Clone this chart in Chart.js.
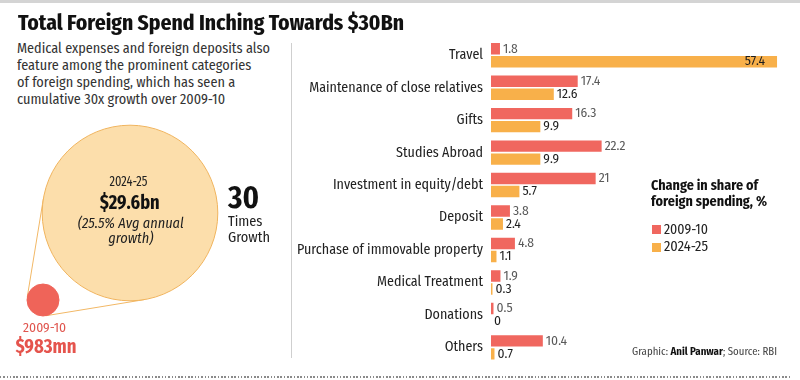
<!DOCTYPE html>
<html>
<head>
<meta charset="utf-8">
<script src="https://cdn.jsdelivr.net/npm/chart.js@4.4.1/dist/chart.umd.min.js"></script>
<style>
  body { margin: 0; width: 800px; height: 380px; overflow: hidden; background: #fff;
         font-family: 'Fira Sans Condensed', Roboto, sans-serif; color: #1e1e1e; position: relative; }
  .t { position: absolute; white-space: nowrap; line-height: 1; transform-origin: 0 0; }
  .c { position: absolute; width: 200px; text-align: center; line-height: 1; }
  .c span { display: inline-block; white-space: nowrap; transform-origin: 50% 0; }
  #topband { position: absolute; left: 0; top: 0; width: 800px; height: 3px; background: #d4d4d4; }
  #divider { position: absolute; left: 291px; top: 43px; width: 1px; height: 315px; background: #cfcfcf; }
  #dots { position: absolute; left: 0; top: 376px; width: 790px; height: 1.5px;
          background: repeating-linear-gradient(90deg, #8a8a8a 0 1.5px, transparent 1.5px 3.3px); }
  #bars { position: absolute; left: 291px; top: 0; }
  #bubbles { position: absolute; left: 0; top: 110px; }
  .sq { position: absolute; width: 9px; height: 9px; }
</style>
</head>
<body>
<div id="topband"></div>
<div id="divider"></div>
<div id="dots"></div>
<canvas id="bubbles" width="290" height="260"></canvas>
<canvas id="bars" width="509" height="380"></canvas>

<div class="t" data-w="386" style="left:18px;top:12px;font-size:22px;font-weight:700;color:#111;font-family:'Fira Sans Extra Condensed','Fira Sans Condensed',sans-serif">Total Foreign Spend Inching Towards $30Bn</div>
<div class="t" data-w="253" style="left:17px;top:39.7px;font-size:14.5px;line-height:17px;color:#333">Medical expenses and foreign deposits also<br>feature among the prominent categories<br>of foreign spending, which has seen a<br>cumulative 30x growth over 2009-10</div>

<div class="c" style="left:28px;top:175.2px;font-size:14px;color:#222"><span data-w="38">2024-25</span></div>
<div class="c" style="left:30px;top:192px;font-size:20px;font-weight:700;color:#111"><span data-w="60">$29.6bn</span></div>
<div class="c" style="left:31px;top:215.7px;font-size:14px;line-height:15px;font-style:italic;color:#222"><span data-w="106">(25.5% Avg annual<br>growth)</span></div>
<div class="t" data-w="31" style="left:228px;top:181.5px;font-size:31px;font-weight:700;color:#111">30</div>
<div class="t" data-w="42" style="left:228px;top:214.2px;font-size:14px;line-height:16px;color:#222">Times<br>Growth</div>
<div class="c" style="left:-55px;top:321px;font-size:13px;color:#e0564f"><span data-w="43">2009-10</span></div>
<div class="c" style="left:-54.5px;top:336px;font-size:20px;font-weight:700;color:#e5544d"><span data-w="61">$983mn</span></div>

<div class="t" data-w="116" style="left:651px;top:178.2px;font-size:14px;line-height:16px;font-weight:700;color:#111">Change in share of<br>foreign spending, %</div>
<div class="sq" style="left:652px;top:225px;background:#f0675f"></div>
<div class="sq" style="left:652px;top:243px;background:#f8b04a"></div>
<div class="t" data-w="44" style="left:664px;top:222.7px;font-size:14px;color:#222">2009-10</div>
<div class="t" data-w="44" style="left:664px;top:240.2px;font-size:14px;color:#222">2024-25</div>
<div class="t" data-w="145" style="left:632px;top:345.7px;font-size:11px;color:#444">Graphic: <b style="color:#111">Anil Panwar</b>; Source: RBI</div>

<script>
// Share of foreign spending by category (%)
const categories = ['Travel', 'Maintenance of close relatives', 'Gifts', 'Studies Abroad',
  'Investment in equity/debt', 'Deposit', 'Purchase of immovable property',
  'Medical Treatment', 'Donations', 'Others'];
const share2009 = [1.8, 17.4, 16.3, 22.2, 21, 3.8, 4.8, 1.9, 0.5, 10.4];
const share2024 = [57.4, 12.6, 9.9, 9.9, 5.7, 2.4, 1.1, 0.3, 0, 0.7];
const seriesNames = ['2009-10', '2024-25'];
// total foreign spend, $bn
const totalSpend = [0.983, 29.6];

const RED = '#f0675f';
const ORANGE = '#f8b04a';
const FONT = "'Fira Sans Condensed', Roboto, sans-serif";

// squeeze html text to the measured widths
document.querySelectorAll('[data-w]').forEach(el => {
  const w = el.getBoundingClientRect().width;
  el.style.transform = 'scaleX(' + (el.dataset.w / w) + ')';
});

// numbers at the end of each bar
const valueLabels = {
  id: 'valueLabels',
  afterDatasetsDraw(chart) {
    const ctx = chart.ctx;
    ctx.save();
    ctx.font = '13.5px ' + FONT;
    ctx.textBaseline = 'middle';
    chart.data.datasets.forEach((ds, di) => {
      chart.getDatasetMeta(di).data.forEach((bar, i) => {
        const inside = bar.x > chart.chartArea.right - 40;
        ctx.fillStyle = di === 0 ? '#5a5a5a' : '#1e1e1e';
        ctx.textAlign = inside ? 'right' : 'left';
        ctx.fillText(String(ds.data[i]), inside ? bar.x - 12 : bar.x + 3, bar.y);
      });
    });
    ctx.restore();
  }
};

new Chart(document.getElementById('bars'), {
  type: 'bar',
  data: {
    labels: categories,
    datasets: [
      { label: seriesNames[0], data: share2009, backgroundColor: RED },
      { label: seriesNames[1], data: share2024, backgroundColor: ORANGE }
    ]
  },
  options: {
    indexAxis: 'y',
    responsive: false,
    animation: false,
    events: [],
    categoryPercentage: 0.8,
    barPercentage: 0.88,
    layout: { padding: { left: 0, right: 10, top: 39, bottom: 16 } },
    plugins: { legend: { display: false }, tooltip: { enabled: false } },
    scales: {
      x: { display: false, min: 0, max: 60 },
      y: {
        afterFit: scale => { scale.width = 200; },
        grid: { display: false, drawTicks: false },
        border: { display: false },
        ticks: { color: '#222', padding: 8, font: { family: FONT, size: 14 } }
      }
    }
  },
  plugins: [valueLabels]
});

// thin tangent lines joining the two circles
const tangents = {
  id: 'tangents',
  beforeDatasetsDraw(chart) {
    const pts = chart.getDatasetMeta(0).data;
    const a = pts[0], b = pts[1];
    const r1 = a.options.radius, r2 = b.options.radius;
    const dx = b.x - a.x, dy = b.y - a.y, d = Math.hypot(dx, dy);
    const g = Math.atan2(dy, dx), be = Math.acos((r1 - r2) / d);
    const ctx = chart.ctx;
    ctx.save();
    ctx.strokeStyle = '#f2b866';
    ctx.lineWidth = 1;
    [g + be, g - be].forEach(t => {
      ctx.beginPath();
      ctx.moveTo(a.x + r1 * Math.cos(t), a.y + r1 * Math.sin(t));
      ctx.lineTo(b.x + r2 * Math.cos(t), b.y + r2 * Math.sin(t));
      ctx.stroke();
    });
    ctx.restore();
  }
};

const baseR = 16;
new Chart(document.getElementById('bubbles'), {
  type: 'bubble',
  data: {
    datasets: [{
      data: [
        { x: 43, y: 190, r: baseR },
        { x: 130, y: 103, r: baseR * Math.sqrt(totalSpend[1] / totalSpend[0]) }
      ],
      backgroundColor: ['#ef6459', '#fcdeab'],
      borderColor: ['#ef6459', '#f0b45e'],
      borderWidth: 1,
      clip: false
    }]
  },
  options: {
    responsive: false,
    animation: false,
    events: [],
    layout: { autoPadding: false, padding: 0 },
    plugins: { legend: { display: false }, tooltip: { enabled: false } },
    scales: {
      x: { display: false, min: 0, max: 290 },
      y: { display: false, min: 0, max: 260, reverse: true }
    }
  },
  plugins: [tangents]
});
</script>
</body>
</html>
